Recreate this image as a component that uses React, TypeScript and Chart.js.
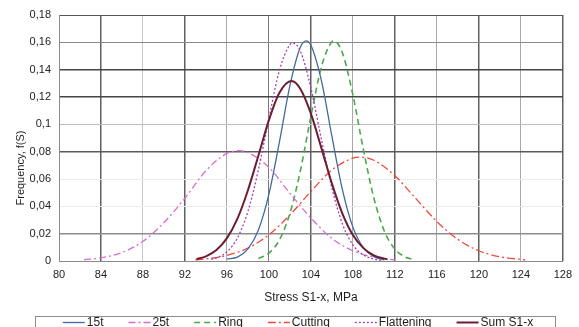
import React, { useEffect, useRef } from 'react';
import { Chart, registerables } from 'chart.js';

Chart.register(...registerables);

// ---- data ----
const seriesNames = ['15t', '25t', 'Ring', 'Cutting', 'Flattening', 'Sum S1-x'];

const x15t = [96, 97, 98, 99, 100, 101, 102, 103, 103.55, 104, 105, 106, 107, 108, 109, 110, 111];
const y15t = [0.0015, 0.0028, 0.0088, 0.0227, 0.0489, 0.0871, 0.1283, 0.1565, 0.161, 0.1579, 0.132, 0.0913, 0.0523, 0.0248, 0.0097, 0.0032, 0.0008];

const x25t = [82.4, 84, 86, 88, 90, 92, 94, 96, 97.1, 98, 100, 102, 104, 106, 108, 110, 112];
const y25t = [0.0009, 0.0023, 0.0062, 0.0144, 0.0282, 0.046, 0.0661, 0.0787, 0.0807, 0.0794, 0.0685, 0.0495, 0.0315, 0.0165, 0.0075, 0.0028, 0.0008];

const xRing = [99, 100, 101, 102, 103, 104, 105, 106, 106.2, 107, 108, 109, 110, 111, 112, 113, 113.6];
const yRing = [0.0018, 0.0057, 0.0154, 0.0348, 0.0662, 0.1058, 0.1421, 0.1604, 0.161, 0.1523, 0.1215, 0.0815, 0.046, 0.0218, 0.0087, 0.0029, 0.0014];

const xCutting = [93, 94, 96, 98, 100, 102, 104, 106, 108, 108.7, 110, 112, 114, 116, 118, 120, 122, 124.4];
const yCutting = [0.0009, 0.0015, 0.0041, 0.0095, 0.0192, 0.0337, 0.0509, 0.0666, 0.0753, 0.076, 0.0737, 0.0624, 0.0456, 0.0289, 0.0158, 0.0075, 0.0031, 0.0009];

const xFlattening = [94.5, 95, 96, 97, 98, 99, 100, 101, 102, 102.3, 103, 104, 105, 106, 107, 108, 109, 110, 110.8];
const yFlattening = [0.0012, 0.0022, 0.0067, 0.0169, 0.0363, 0.0668, 0.1045, 0.1394, 0.1584, 0.1595, 0.1534, 0.1266, 0.089, 0.0534, 0.0272, 0.0118, 0.0044, 0.0014, 0.0005];

const xSum = [93.1, 94, 95, 96, 97, 98, 99, 100, 101, 102.15, 103, 104, 105, 106, 107, 108, 109, 110, 111.3];
const ySum = [0.0015, 0.0034, 0.008, 0.0167, 0.031, 0.0518, 0.0772, 0.1031, 0.1231, 0.1317, 0.1259, 0.1078, 0.0826, 0.0566, 0.0347, 0.019, 0.0094, 0.0041, 0.0012];

const xTitle = 'Stress S1-x, MPa';
const yTitle = 'Frequency, f(S)';
const xMin = 80, xMax = 128, xStep = 4;
const yMin = 0, yMax = 0.18, yStep = 0.02;

const FONT = '"Liberation Sans", Arial, sans-serif';

const pts = (xs: number[], ys: number[]) => xs.map((x, i) => ({ x, y: ys[i] }));

const xDark = [84, 92, 104, 112, 120, 128];
const xGridColor = (v: number) => {
  if (xDark.includes(v)) return '#606060';
  if (v === 100) return '#7a7a7a';
  if ([96, 108, 116, 124].includes(v)) return '#a8a8a8';
  if (v === 80) return '#8a8a8a';
  return '#c8c8c8';
};
const xGridWidth = (v: number) => (xDark.includes(v) ? 1.5 : 1);

const yGridColor = (v: number) => {
  const r = Math.round(v * 100);
  if (r === 0) return '#8a8a8a';
  if (r === 2) return '#8e8e8e';
  if (r === 4 || r === 6) return '#ececec';
  if (r === 8) return '#5a5a5a';
  if (r === 10) return '#bdbdbd';
  if (r === 12 || r === 14) return '#454545';
  if (r === 16) return '#8a8a8a';
  return '#555555';
};
const yGridWidth = (v: number) => {
  const r = Math.round(v * 100);
  return r === 2 || r === 8 || r === 12 || r === 14 ? 1.5 : 1;
};

const overlayPlugin = {
  id: 'overlay',
  afterDraw(chart: any) {
    const ctx = chart.ctx as CanvasRenderingContext2D;
    const area = chart.chartArea;
    ctx.save();
    // axis titles
    ctx.fillStyle = '#1e1e1e';
    ctx.textBaseline = 'middle';
    ctx.textAlign = 'center';
    ctx.font = `12px ${FONT}`;
    ctx.fillText(xTitle, (area.left + area.right) / 2, 298);
    ctx.save();
    ctx.translate(20.5, 168);
    ctx.rotate(-Math.PI / 2);
    ctx.font = `11px ${FONT}`;
    ctx.fillText(yTitle, 0, 0);
    ctx.restore();

    // legend box
    ctx.strokeStyle = '#8c8c8c';
    ctx.lineWidth = 1;
    ctx.setLineDash([]);
    ctx.strokeRect(35.5, 316.5, 520, 30);
    ctx.font = `12px ${FONT}`;
    ctx.textAlign = 'left';
    const ds = chart.data.datasets;
    const widths = ds.map((d: any) => 24 + ctx.measureText(d.label).width);
    const gap = 25;
    const total = widths.reduce((a: number, b: number) => a + b, 0) + gap * (ds.length - 1);
    let x = 298 - total / 2;
    const y = 322.5;
    ds.forEach((d: any, i: number) => {
      ctx.strokeStyle = d.borderColor;
      ctx.lineWidth = d.borderWidth;
      ctx.setLineDash(d.borderDash || []);
      ctx.beginPath();
      ctx.moveTo(x, y);
      ctx.lineTo(x + 22, y);
      ctx.stroke();
      ctx.setLineDash([]);
      ctx.fillStyle = '#1e1e1e';
      ctx.fillText(d.label, x + 24, y + 0.5);
      x += widths[i] + gap;
    });
    ctx.restore();
  },
};

export default function App() {
  const ref = useRef<HTMLCanvasElement | null>(null);
  useEffect(() => {
    if (!ref.current) return;
    const common = { pointRadius: 0, pointHoverRadius: 0, fill: false, cubicInterpolationMode: 'monotone' as const };
    const chart = new Chart(ref.current, {
      type: 'line',
      data: {
        datasets: [
          { label: seriesNames[0], data: pts(x15t, y15t), borderColor: '#46699a', borderWidth: 1.3, order: 2, ...common },
          { label: seriesNames[1], data: pts(x25t, y25t), borderColor: '#d36fce', borderWidth: 1.3, borderDash: [7, 3, 2, 3], order: 3, ...common },
          { label: seriesNames[2], data: pts(xRing, yRing), borderColor: '#4ea64e', borderWidth: 1.6, borderDash: [6, 4], order: 3, ...common },
          { label: seriesNames[3], data: pts(xCutting, yCutting), borderColor: '#f2473f', borderWidth: 1.3, borderDash: [8, 3, 2, 3], order: 3, ...common },
          { label: seriesNames[4], data: pts(xFlattening, yFlattening), borderColor: '#a43fb5', borderWidth: 1.3, borderDash: [2, 2], order: 1, ...common },
          { label: seriesNames[5], data: pts(xSum, ySum), borderColor: '#6a1e32', borderWidth: 2, order: 0, ...common },
        ],
      },
      options: {
        animation: false,
        responsive: false,
        layout: { padding: { top: 15, right: 15, left: 0, bottom: 0 } },
        plugins: { legend: { display: false }, tooltip: { enabled: false } },
        scales: {
          x: {
            type: 'linear',
            min: xMin,
            max: xMax,
            ticks: { stepSize: xStep, color: '#222', font: { size: 11, family: FONT }, padding: 7, maxRotation: 0 },
            grid: { color: (c: any) => xGridColor(c.tick.value), lineWidth: (c: any) => xGridWidth(c.tick.value), drawTicks: false },
            border: { color: '#8a8a8a' },
            afterFit: (s: any) => { s.height = 66; },
          },
          y: {
            type: 'linear',
            min: yMin,
            max: yMax,
            ticks: {
              stepSize: yStep,
              color: '#222',
              font: { size: 11, family: FONT },
              padding: 8,
              callback: (v: any) => String(Math.round(Number(v) * 100) / 100).replace('.', ','),
            },
            grid: { color: (c: any) => yGridColor(c.tick.value), lineWidth: (c: any) => yGridWidth(c.tick.value), drawTicks: false },
            border: { color: '#8a8a8a' },
            afterFit: (s: any) => { s.width = 59; },
          },
        },
      },
      plugins: [overlayPlugin],
    });
    return () => chart.destroy();
  }, []);
  return (
    <div style={{ position: 'fixed', left: 0, top: 0, width: 579, height: 327, background: '#fff' }}>
      <canvas ref={ref} width={579} height={327} style={{ display: 'block' }} />
    </div>
  );
}
